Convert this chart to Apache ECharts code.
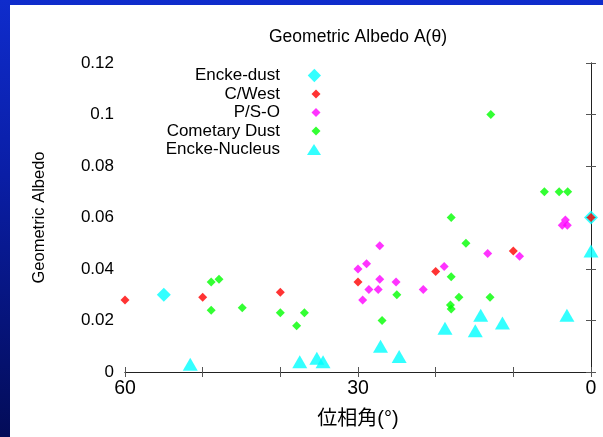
<!DOCTYPE html>
<html>
<head>
<meta charset="utf-8">
<script src="https://cdn.jsdelivr.net/npm/echarts@6/dist/echarts.min.js"></script>
<style>
html,body{margin:0;padding:0;width:603px;height:437px;overflow:hidden;}
body{background:linear-gradient(180deg,#0f2ccc 0%,#0a1ea6 40%,#030c58 100%);position:relative;}
#chart{position:absolute;left:10px;top:5px;width:593px;height:432px;background:#ffffff;}
</style>
</head>
<body>
<div id="chart"></div>
<script>
// ---- data ----
const xTickLabels = [60, 30, 0];
const yTickLabels = [0, 0.02, 0.04, 0.06, 0.08, 0.1, 0.12];

const enckeDustX = [55, 0];
const enckeDustY = [0.030, 0.060];

const cWestX = [60, 50, 40, 30, 20, 10, 0];
const cWestY = [0.028, 0.029, 0.031, 0.035, 0.039, 0.047, 0.060];

const psoX = [30, 28.9, 29.4, 28.6, 27.2, 27.2, 27.4, 25.1, 21.6, 18.9, 13.3, 9.2, 3.3, 3.7, 3.05];
const psoY = [0.040, 0.042, 0.028, 0.032, 0.049, 0.036, 0.032, 0.035, 0.032, 0.041, 0.046, 0.045, 0.059, 0.057, 0.057];

const cometX = [48.9, 47.9, 48.9, 44.9, 40, 37.9, 36.9, 26.9, 25.0, 18.0, 18.0, 18.1, 17.0, 16.1, 18.0, 13.0, 12.9, 6.0, 4.1, 3.0];
const cometY = [0.035, 0.036, 0.024, 0.025, 0.023, 0.018, 0.023, 0.020, 0.030, 0.037, 0.0245, 0.026, 0.029, 0.050, 0.060, 0.029, 0.100, 0.070, 0.070, 0.070];

const nucleusX = [51.6, 37.5, 35.3, 34.5, 27.1, 24.7, 18.8, 14.9, 14.2, 11.4, 3.1, 0];
const nucleusY = [0.003, 0.004, 0.0053, 0.004, 0.010, 0.006, 0.017, 0.016, 0.022, 0.019, 0.022, 0.047];

const seriesNames = ['Encke-dust', 'C/West', 'P/S-O', 'Cometary Dust', 'Encke-Nucleus'];

function pairs(xs, ys) { return xs.map((x, i) => [x, ys[i]]); }

const FONT = '"Liberation Sans", Arial, Helvetica, sans-serif';
const CJK = '"Liberation Sans", "Noto Sans CJK JP", sans-serif';

// legend icons: 36x16 box, shape drawn at right side
const iconBigDiamond = 'path://M0,0 M36,16 M31,1 L38,8 L31,15 L24,8 Z';
const iconSmallDiamond = 'path://M0,0 M36,16 M31,3.5 L35.5,8 L31,12.5 L26.5,8 Z';
const iconTriangle = 'path://M0,0 M36,16 M31,2 L38.5,14 L23.5,14 Z';

const chart = echarts.init(document.getElementById('chart'), null, {renderer: 'canvas'});

const axisLineDark = {show: true, lineStyle: {color: '#222', width: 1}};
const axisLineLeft = {show: true, lineStyle: {color: '#666', width: 1}};

const option = {
  animation: false,
  backgroundColor: '#ffffff',
  textStyle: {fontFamily: FONT},
  grid: {left: 115, right: 12, top: 58, bottom: 65, containLabel: false},
  graphic: [{
    type: 'text', x: 348, y: 32,
    style: {text: 'Geometric Albedo A(\u03b8)', align: 'center', verticalAlign: 'middle',
            font: '17.5px ' + FONT, fill: '#000'}
  }],
  legend: {
    orient: 'vertical', align: 'right', right: 282, top: 62, padding: 0,
    itemWidth: 36, itemHeight: 16, itemGap: 1.5,
    selectedMode: false,
    textStyle: {fontSize: 17, color: '#000', fontFamily: FONT, lineHeight: 17},
    data: [
      {name: seriesNames[0], icon: iconBigDiamond},
      {name: seriesNames[1], icon: iconSmallDiamond},
      {name: seriesNames[2], icon: iconSmallDiamond},
      {name: seriesNames[3], icon: iconSmallDiamond},
      {name: seriesNames[4], icon: iconTriangle}
    ]
  },
  xAxis: [{
    type: 'value', inverse: true, min: 0, max: 60, interval: 10, position: 'bottom',
    name: '位相角(°)', nameLocation: 'middle', nameGap: 37,
    nameTextStyle: {fontSize: 20, color: '#000', fontFamily: CJK},
    axisLine: axisLineLeft,
    axisTick: {show: true, inside: true, length: 5, lineStyle: {color: '#555'}},
    axisLabel: {show: true, margin: 7, fontSize: 19.5, color: '#000', fontFamily: FONT,
      formatter: v => (xTickLabels.indexOf(v) >= 0 ? String(v) : '')},
    splitLine: {show: false}
  }, {
    type: 'value', inverse: true, min: 0, max: 60, interval: 10, position: 'top',
    axisLine: axisLineDark,
    axisTick: {show: true, inside: true, length: 5, lineStyle: {color: '#555'}},
    axisLabel: {show: false}, splitLine: {show: false}
  }],
  yAxis: [{
    type: 'value', min: 0, max: 0.12, interval: 0.02, position: 'left',
    name: 'Geometric Albedo', nameLocation: 'middle', nameGap: 77, nameRotate: 90,
    nameTextStyle: {fontSize: 16.5, color: '#000', fontFamily: FONT},
    axisLine: axisLineLeft,
    axisTick: {show: true, inside: true, length: 5, lineStyle: {color: '#555'}},
    axisLabel: {show: true, margin: 11, fontSize: 17, color: '#000', fontFamily: FONT,
      formatter: v => { const r = Math.round(v * 100) / 100; return yTickLabels.indexOf(r) >= 0 ? String(r) : ''; }},
    splitLine: {show: false}
  }, {
    type: 'value', min: 0, max: 0.12, interval: 0.02, position: 'right',
    axisLine: axisLineDark,
    axisTick: {show: true, inside: true, length: 5, lineStyle: {color: '#555'}},
    axisLabel: {show: false}, splitLine: {show: false}
  }],
  series: [
    {name: seriesNames[0], type: 'scatter', symbol: 'diamond', symbolSize: 14, clip: false,
     itemStyle: {color: '#00ffff'}, emphasis: {disabled: true}, data: pairs(enckeDustX, enckeDustY)},
    {name: seriesNames[1], type: 'scatter', symbol: 'diamond', symbolSize: 9, clip: false,
     itemStyle: {color: '#ff0000'}, emphasis: {disabled: true}, data: pairs(cWestX, cWestY)},
    {name: seriesNames[2], type: 'scatter', symbol: 'diamond', symbolSize: 9, clip: false,
     itemStyle: {color: '#ff00ff'}, emphasis: {disabled: true}, data: pairs(psoX, psoY)},
    {name: seriesNames[3], type: 'scatter', symbol: 'diamond', symbolSize: 9, clip: false,
     itemStyle: {color: '#00ff00'}, emphasis: {disabled: true}, data: pairs(cometX, cometY)},
    {name: seriesNames[4], type: 'scatter', symbol: 'triangle', symbolSize: [15, 13], clip: false,
     itemStyle: {color: '#00ffff'}, emphasis: {disabled: true}, data: pairs(nucleusX, nucleusY)}
  ]
};
chart.setOption(option);
</script>
</body>
</html>
